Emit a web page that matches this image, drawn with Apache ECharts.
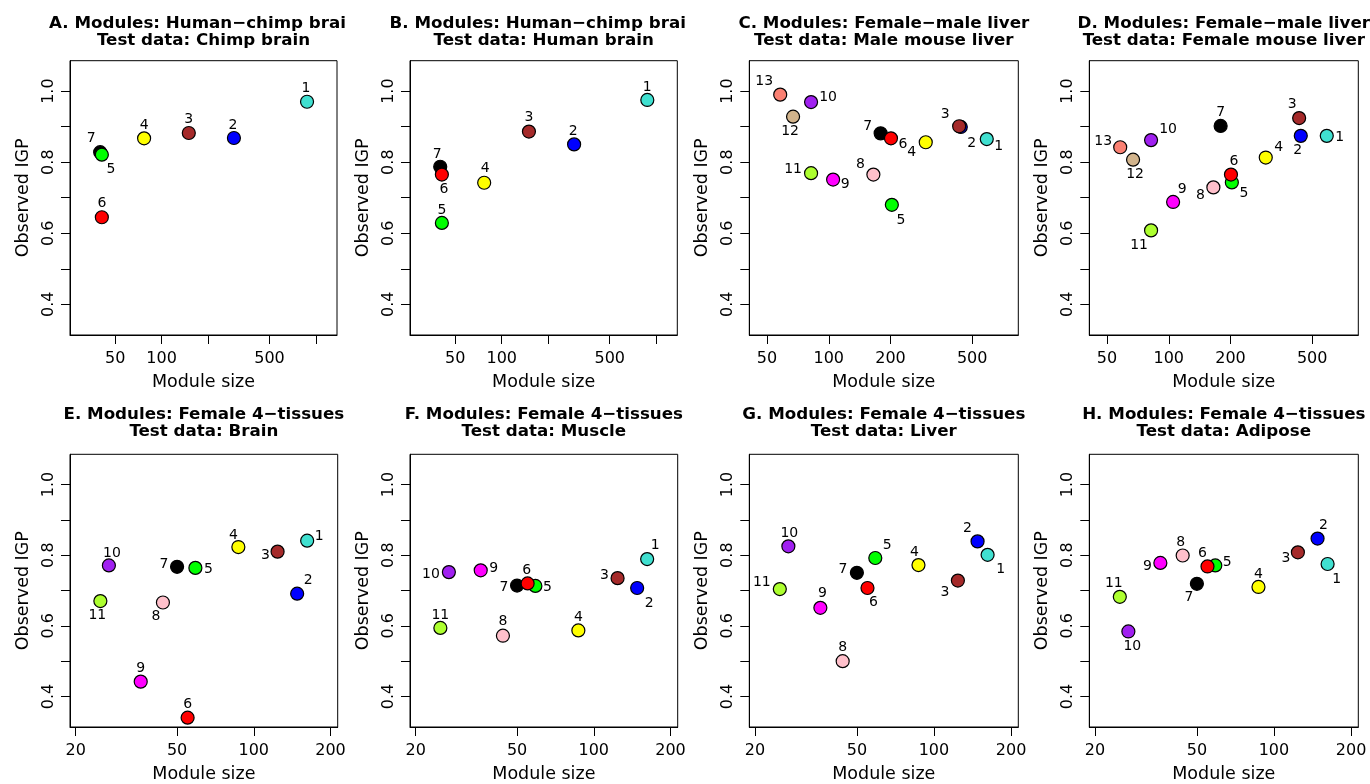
<!DOCTYPE html>
<html>
<head>
<meta charset="utf-8">
<script src="https://cdn.jsdelivr.net/npm/echarts@6/dist/echarts.min.js"></script>
<style>
html, body { margin: 0; padding: 0; background: #fff; }
#chart { width: 1370px; height: 784px; }
</style>
</head>
<body>
<div id="chart"></div>
<script>
// module colours (WGCNA standard), module i+1 -> colourNames[i]
const colourNames = ['turquoise', 'blue', 'brown', 'yellow', 'green', 'red', 'black',
    'pink', 'magenta', 'purple', 'greenyellow', 'tan', 'salmon'];
const colourHex = {
    turquoise: '#40E0D0', blue: '#0000FF', brown: '#A52A2A', yellow: '#FFFF00',
    green: '#00FF00', red: '#FF0000', black: '#000000', pink: '#FFC0CB',
    magenta: '#FF00FF', purple: '#A020F0', greenyellow: '#ADFF2F', tan: '#D2B48C',
    salmon: '#FA8072'
};

// module sizes
const sizesHumanChimp = [875, 294, 150, 77, 41, 41, 40];
const sizesFemaleMale = [589, 440, 432, 297, 203, 201, 179, 165, 105, 82, 82, 67, 58];
const sizesFourTissue = [162, 148, 124, 87, 59, 55, 50, 44, 36, 27, 25];

// observed IGP per panel
const igpA = [0.970, 0.868, 0.882, 0.867, 0.821, 0.645, 0.828];
const igpB = [0.975, 0.850, 0.886, 0.742, 0.629, 0.765, 0.787];
const igpC = [0.865, 0.899, 0.901, 0.856, 0.680, 0.867, 0.881, 0.765, 0.751, 0.969, 0.769, 0.928, 0.990];
const igpD = [0.874, 0.874, 0.924, 0.813, 0.743, 0.765, 0.902, 0.729, 0.688, 0.862, 0.608, 0.807, 0.842];
const igpE = [0.841, 0.691, 0.810, 0.823, 0.764, 0.340, 0.767, 0.666, 0.442, 0.771, 0.670];
const igpF = [0.789, 0.707, 0.735, 0.587, 0.713, 0.720, 0.714, 0.572, 0.757, 0.752, 0.594];
const igpG = [0.801, 0.839, 0.728, 0.772, 0.792, 0.707, 0.750, 0.500, 0.651, 0.825, 0.704];
const igpH = [0.775, 0.847, 0.808, 0.710, 0.771, 0.768, 0.719, 0.799, 0.778, 0.584, 0.682];

// tick values
const xTicksHumanChimp = [50, 100, 200, 500, 1000];
const xLabelsHumanChimp = [50, 100, 500];
const xTicksFemaleMale = [50, 100, 200, 500];
const xTicksFourTissue = [20, 50, 100, 200];
const yTicks = [0.4, 0.5, 0.6, 0.7, 0.8, 0.9, 1.0];
const yLabels = [0.4, 0.6, 0.8, 1.0];

// titles
const titlesTop = [
    'A. Modules: Human\u2212chimp brain', 'B. Modules: Human\u2212chimp brain',
    'C. Modules: Female\u2212male liver', 'D. Modules: Female\u2212male liver',
    'E. Modules: Female 4\u2212tissues', 'F. Modules: Female 4\u2212tissues',
    'G. Modules: Female 4\u2212tissues', 'H. Modules: Female 4\u2212tissues'
];
const titlesSub = [
    'Test data: Chimp brain', 'Test data: Human brain',
    'Test data: Male mouse liver', 'Test data: Female mouse liver',
    'Test data: Brain', 'Test data: Muscle', 'Test data: Liver', 'Test data: Adipose'
];

// label placement (px offset of the number from its point), styling only
const offA = [[-1,-13],[-1,-13],[0,-14],[0,-13],[9,15],[0,-14],[-9,-14]];
const offB = [[0,-13],[-1,-13],[0,-14],[1,-14],[0,-13],[2,15],[-3,-12]];
const offC = [[12,7],[11,16],[-14,-12],[-14,10],[9,16],[12,6],[-13,-7],[-13,-10],[12,5],[17,-5],[-18,-4],[-3,15],[-16,-13]];
const offD = [[13,2],[-3,15],[-7,-14],[13,-10],[12,11],[3,-13],[0,-14],[-13,8],[9,-13],[17,-11],[-12,15],[2,15],[-17,-6]];
const offE = [[12,-4],[11,-13],[-12,4],[-5,-12],[13,1],[0,-13],[-13,-2],[-7,14],[0,-13],[3,-12],[-3,14]];
const offF = [[8,-14],[12,15],[-13,-3],[0,-13],[12,1],[-1,-13],[-13,2],[0,-14],[13,-2],[-18,2],[0,-13]];
const offG = [[13,15],[-10,-13],[-13,12],[-4,-13],[12,-13],[6,14],[-14,-3],[0,-14],[2,-14],[1,-13],[-18,-7]];
const offH = [[9,15],[6,-13],[-12,6],[0,-13],[12,-3],[-5,-13],[-8,14],[-2,-13],[-13,3],[4,15],[-6,-13]];

const FONT = '"DejaVu Sans", Arial, sans-serif';

const panels = [
    { igp: igpA, sizes: sizesHumanChimp, off: offA, xmin: 25.5, xmax: 1368, ticks: xTicksHumanChimp, labels: xLabelsHumanChimp, box: [70, 60.7, 267, 274.3], clip: 350 },
    { igp: igpB, sizes: sizesHumanChimp, off: offB, xmin: 25.5, xmax: 1368, ticks: xTicksHumanChimp, labels: xLabelsHumanChimp, box: [410, 60.7, 267.3, 274.3], clip: 692 },
    { igp: igpC, sizes: sizesFemaleMale, off: offC, xmin: 41, xmax: 839, ticks: xTicksFemaleMale, labels: xTicksFemaleMale, box: [749.3, 60.7, 269, 274.3], clip: 1045 },
    { igp: igpD, sizes: sizesFemaleMale, off: offD, xmin: 41, xmax: 839, ticks: xTicksFemaleMale, labels: xTicksFemaleMale, box: [1089.3, 60.7, 269, 274.3], clip: 1390 },
    { igp: igpE, sizes: sizesFourTissue, off: offE, xmin: 19, xmax: 213.5, ticks: xTicksFourTissue, labels: xTicksFourTissue, box: [70, 454.3, 267.7, 274.4], clip: 360 },
    { igp: igpF, sizes: sizesFourTissue, off: offF, xmin: 19, xmax: 213.5, ticks: xTicksFourTissue, labels: xTicksFourTissue, box: [410, 454.3, 267.7, 274.4], clip: 700 },
    { igp: igpG, sizes: sizesFourTissue, off: offG, xmin: 19, xmax: 213.5, ticks: xTicksFourTissue, labels: xTicksFourTissue, box: [749.3, 454.3, 269, 274.4], clip: 1045 },
    { igp: igpH, sizes: sizesFourTissue, off: offH, xmin: 19, xmax: 213.5, ticks: xTicksFourTissue, labels: xTicksFourTissue, box: [1089.3, 454.3, 269, 274.4], clip: 1390 }
];

const measureCtx = document.createElement('canvas').getContext('2d');
const titleFont = 'bold 16.7px ' + FONT;
measureCtx.font = titleFont;

const grids = [], xAxes = [], yAxes = [], series = [], graphics = [];

panels.forEach((p, i) => {
    const [left, top, width, height] = p.box;
    grids.push({
        left: left, top: top, width: width, height: height,
        show: true, borderColor: '#000', borderWidth: 1, backgroundColor: 'transparent'
    });
    xAxes.push({
        type: 'log', logBase: 10, gridIndex: i, min: p.xmin, max: p.xmax,
        axisLine: { show: true, lineStyle: { color: '#000', width: 1 } },
        axisTick: { show: true, inside: false, length: 9, customValues: p.ticks, lineStyle: { color: '#000' } },
        axisLabel: {
            customValues: p.labels, color: '#000', fontSize: 16, fontFamily: FONT, margin: 16,
            formatter: v => String(Math.round(v))
        },
        splitLine: { show: false },
        name: 'Module size', nameLocation: 'middle', nameGap: 38,
        nameTextStyle: { color: '#000', fontSize: 17.5, fontFamily: FONT }
    });
    yAxes.push({
        type: 'value', gridIndex: i, min: 0.3136, max: 1.0855,
        axisLine: { show: true, lineStyle: { color: '#000', width: 1 } },
        axisTick: { show: true, inside: false, length: 9, customValues: yTicks, lineStyle: { color: '#000' } },
        axisLabel: {
            customValues: yLabels, rotate: 90, color: '#000', fontSize: 16, fontFamily: FONT, margin: 13,
            formatter: v => v.toFixed(1)
        },
        splitLine: { show: false },
        name: 'Observed IGP', nameLocation: 'middle', nameRotate: 90, nameGap: 38,
        nameTextStyle: { color: '#000', fontSize: 17.5, fontFamily: FONT }
    });

    // points drawn in alphabetical order of colour name, like the original
    const order = p.igp.map((v, k) => k)
        .sort((a, b) => colourNames[a] < colourNames[b] ? -1 : 1);
    series.push({
        type: 'scatter', xAxisIndex: i, yAxisIndex: i,
        symbol: 'circle', symbolSize: 13,
        silent: true,
        itemStyle: { opacity: 1 },
        data: order.map(k => ({
            value: [p.sizes[k], p.igp[k]],
            itemStyle: { color: colourHex[colourNames[k]], borderColor: '#000', borderWidth: 1.2, opacity: 1 },
            label: {
                show: true, position: 'inside', offset: p.off[k], opacity: 1,
                formatter: String(k + 1), color: '#000', fontSize: 14, fontFamily: FONT
            }
        }))
    });

    // two-line bold title, first line cut at the panel edge
    const cx = left + width / 2;
    const row = i < 4 ? 0 : 391;
    const fullW = measureCtx.measureText(titlesTop[i]).width;
    const tx = cx - fullW / 2;
    graphics.push({
        type: 'text', x: tx, y: 15.2 + row,
        style: {
            text: titlesTop[i], font: titleFont, fill: '#000',
            align: 'left', verticalAlign: 'top', textAlign: 'left', textVerticalAlign: 'top',
            width: p.clip - tx, overflow: 'truncate', ellipsis: ''
        }
    });
    graphics.push({
        type: 'text', x: cx, y: 31.9 + row,
        style: {
            text: titlesSub[i], font: titleFont, fill: '#000',
            align: 'center', verticalAlign: 'top', textAlign: 'center', textVerticalAlign: 'top'
        }
    });
});

const chart = echarts.init(document.getElementById('chart'));
chart.setOption({
    animation: false,
    backgroundColor: '#fff',
    grid: grids,
    xAxis: xAxes,
    yAxis: yAxes,
    series: series,
    graphic: graphics
});
</script>
</body>
</html>
